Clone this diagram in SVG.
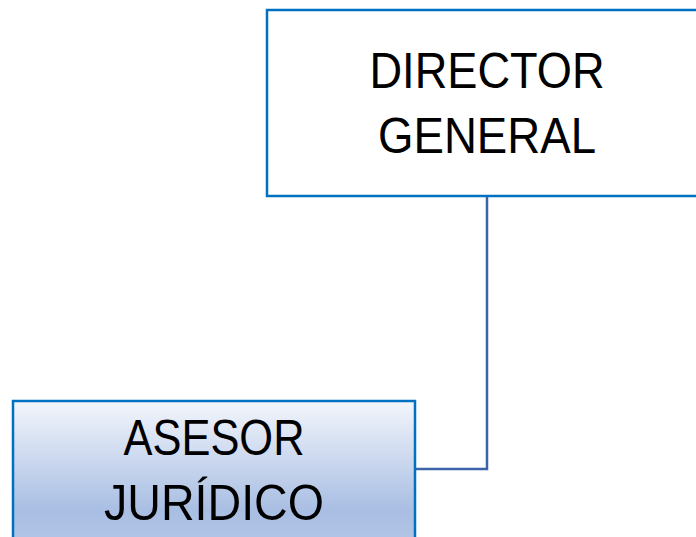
<svg xmlns="http://www.w3.org/2000/svg" width="696" height="537" viewBox="0 0 696 537">
<style>
.box{stroke:#0070C0;stroke-width:2.5}
.lbl{font-family:"Liberation Sans",Arial,sans-serif;font-size:50px;fill:#000;text-anchor:middle}
.conn{fill:none;stroke:#3C64A8;stroke-width:2.5}
</style>
<defs>
<linearGradient id="g" x1="0" y1="0" x2="0" y2="1">
<stop offset="0" stop-color="#F3F6FC"/>
<stop offset="0.75" stop-color="#A9BEE3"/>
<stop offset="1" stop-color="#B3C6E7"/>
</linearGradient>
</defs>
<rect width="696" height="537" fill="#fff"/>
<g id="connectors">
<path class="conn" d="M487 196 V469 H415"/>
</g>
<g id="director">
<rect class="box" x="267" y="10" width="440" height="186" fill="#fff"/>
<text class="lbl" x="487" y="88" textLength="235" lengthAdjust="spacingAndGlyphs">DIRECTOR</text>
<text class="lbl" x="487" y="153" textLength="218" lengthAdjust="spacingAndGlyphs">GENERAL</text>
</g>
<g id="asesor">
<rect class="box" x="13" y="401" width="402" height="146" fill="url(#g)"/>
<text class="lbl" x="214" y="455" textLength="181" lengthAdjust="spacingAndGlyphs">ASESOR</text>
<text class="lbl" x="214" y="520" textLength="220" lengthAdjust="spacingAndGlyphs">JURÍDICO</text>
</g>
</svg>
